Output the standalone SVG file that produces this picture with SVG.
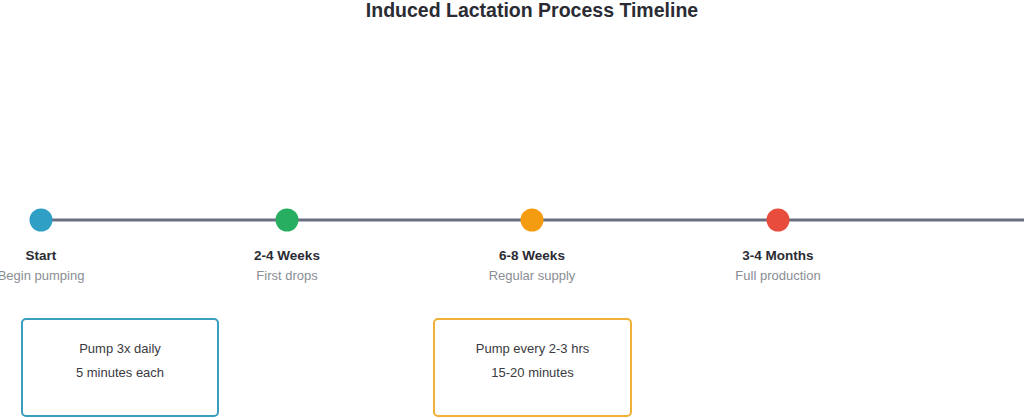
<svg xmlns="http://www.w3.org/2000/svg" width="1024" height="418" viewBox="0 0 1024 418">
<style>
.title{font-family:"Liberation Sans",Arial,sans-serif;font-size:19.5px;font-weight:bold;fill:#2b2b33;text-anchor:middle}
.lbl{font-family:"Liberation Sans",Arial,sans-serif;font-size:13.5px;font-weight:bold;fill:#2b2b33;text-anchor:middle}
.sub{font-family:"Liberation Sans",Arial,sans-serif;font-size:13px;fill:#8a8d94;text-anchor:middle}
.box{fill:#ffffff;stroke-width:2}
.bt{font-family:"Liberation Sans",Arial,sans-serif;font-size:13px;fill:#3a3a40;text-anchor:middle}
</style>
<rect width="1024" height="418" fill="#ffffff"/>
<text class="title" x="532" y="17">Induced Lactation Process Timeline</text>
<g id="connectors">
<line x1="41" y1="220" x2="1024" y2="220" stroke="#6b6e82" stroke-width="3"/>
</g>
<g id="start">
<circle cx="41" cy="220" r="11.5" fill="#2f9fc6"/>
<text class="lbl" x="41" y="260">Start</text>
<text class="sub" x="41" y="280">Begin pumping</text>
</g>
<g id="weeks24">
<circle cx="287" cy="220" r="11.5" fill="#27ae60"/>
<text class="lbl" x="287" y="260">2-4 Weeks</text>
<text class="sub" x="287" y="280">First drops</text>
</g>
<g id="weeks68">
<circle cx="532" cy="220" r="11.5" fill="#f39c12"/>
<text class="lbl" x="532" y="260">6-8 Weeks</text>
<text class="sub" x="532" y="280">Regular supply</text>
</g>
<g id="months34">
<circle cx="778" cy="220" r="11.5" fill="#e74c3c"/>
<text class="lbl" x="778" y="260">3-4 Months</text>
<text class="sub" x="778" y="280">Full production</text>
</g>
<g id="box1">
<rect class="box" x="22" y="319" width="196" height="97" rx="4" stroke="#3a9fbf"/>
<text class="bt" x="120" y="353">Pump 3x daily</text>
<text class="bt" x="120" y="377">5 minutes each</text>
</g>
<g id="box2">
<rect class="box" x="434" y="319" width="197" height="97" rx="4" stroke="#f0b03a"/>
<text class="bt" x="532.5" y="353">Pump every 2-3 hrs</text>
<text class="bt" x="532.5" y="377">15-20 minutes</text>
</g>
</svg>
